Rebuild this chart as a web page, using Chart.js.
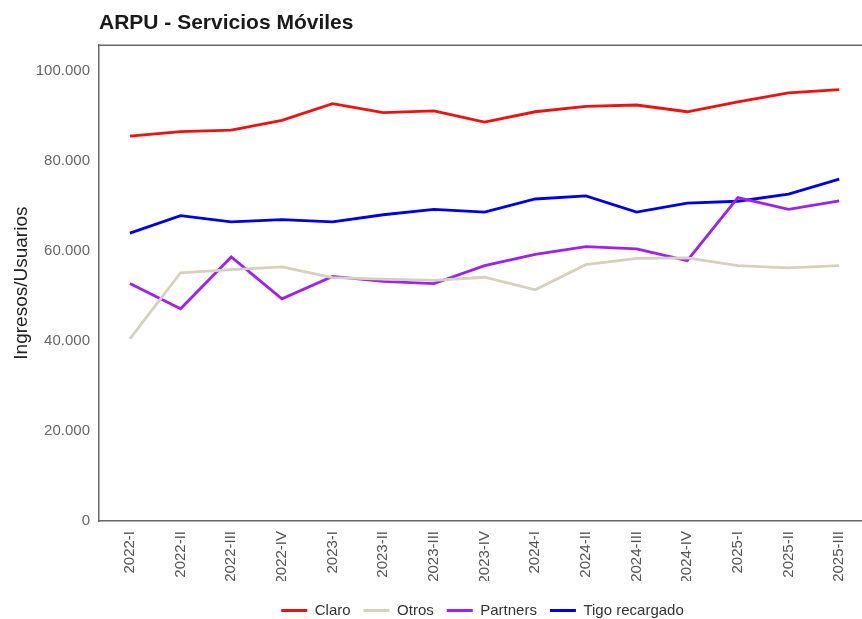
<!DOCTYPE html>
<html>
<head>
<meta charset="utf-8">
<script src="https://cdn.jsdelivr.net/npm/chart.js@4/dist/chart.umd.min.js"></script>
<style>
  html, body { margin: 0; padding: 0; background: #fff; }
  #wrap { width: 862px; height: 619px; position: relative; }
</style>
</head>
<body>
<div id="wrap"><canvas id="arpuChart"></canvas></div>
<script>
const periods = ['2022-I', '2022-II', '2022-III', '2022-IV', '2023-I', '2023-II', '2023-III', '2023-IV',
    '2024-I', '2024-II', '2024-III', '2024-IV', '2025-I', '2025-II', '2025-III'];

const claro = [85600, 86600, 86900, 89100, 92800, 90800, 91200, 88700, 91000, 92200, 92500, 91000, 93200, 95200, 95900];
const otros = [40500, 55200, 55900, 56500, 54100, 53800, 53500, 54200, 51400, 57000, 58400, 58500, 56800, 56300, 56800];
const partners = [52800, 47200, 58700, 49400, 54400, 53300, 52800, 56800, 59300, 61000, 60500, 57900, 71900, 69300, 71200];
const tigo = [64000, 67900, 66500, 67000, 66500, 68100, 69300, 68700, 71600, 72300, 68700, 70700, 71100, 72700, 76000];

const yTicks = [0, 20000, 40000, 60000, 80000, 100000];

const FONT = "'Liberation Sans', Arial, sans-serif";

function toPoints(values) {
    return values.map((v, i) => ({ x: i, y: v }));
}

function fmtThousands(v) {
    return String(Math.round(v)).replace(/\B(?=(\d{3})+(?!\d))/g, '.');
}

// frame line along the top of the plot area, and nudge the legend a bit
const frameAndLegend = {
    id: 'frameAndLegend',
    afterLayout(chart) {
        const lg = chart.legend;
        if (lg) {
            lg.top += 9;
            lg.bottom += 9;
            lg.left += 2;
            lg.right += 2;
        }
    },
    afterDraw(chart) {
        const a = chart.chartArea;
        const c = chart.ctx;
        c.save();
        c.strokeStyle = '#666';
        c.lineWidth = 1.5;
        c.beginPath();
        c.moveTo(a.left, a.top);
        c.lineTo(862, a.top);
        c.stroke();
        c.restore();
    }
};

function line(label, values, color) {
    return {
        label: label,
        data: toPoints(values),
        borderColor: color,
        backgroundColor: color,
        borderWidth: 2.8,
        pointRadius: 0,
        tension: 0
    };
}

const ctx = document.getElementById('arpuChart').getContext('2d');
new Chart(ctx, {
    type: 'line',
    data: {
        datasets: [
            line('Claro', claro, '#ee1111'),
            line('Otros', otros, '#d6d0be'),
            line('Partners', partners, '#a020f0'),
            line('Tigo recargado', tigo, '#0000e6')
        ]
    },
    options: {
        responsive: true,
        maintainAspectRatio: false,
        animation: false,
        layout: { padding: { top: 0, right: 0, bottom: 0, left: 0 } },
        scales: {
            x: {
                type: 'linear',
                min: -0.61,
                max: 14.45,
                grid: { display: false, drawTicks: false },
                border: { display: true, color: '#666', width: 1.5 },
                afterBuildTicks(scale) {
                    scale.ticks = periods.map((p, i) => ({ value: i }));
                },
                afterFit(scale) {
                    scale.height = 60;
                    scale.paddingLeft = 0;
                    scale.paddingRight = 0;
                },
                ticks: {
                    autoSkip: false,
                    maxRotation: 90,
                    minRotation: 90,
                    padding: 10,
                    color: '#555',
                    font: { family: FONT, size: 15 },
                    callback: (v) => periods[v]
                }
            },
            y: {
                min: 0,
                max: 105800,
                grid: { display: false, drawTicks: false },
                border: { display: true, color: '#666', width: 1.5 },
                afterBuildTicks(scale) {
                    scale.ticks = yTicks.map(v => ({ value: v }));
                },
                afterFit(scale) { scale.width = 99; },
                title: {
                    display: true,
                    text: 'Ingresos/Usuarios',
                    color: '#222',
                    padding: { top: 10, bottom: 0 },
                    font: { family: FONT, size: 19 }
                },
                ticks: {
                    padding: 9,
                    color: '#666',
                    font: { family: FONT, size: 15 },
                    callback: (v) => fmtThousands(v)
                }
            }
        },
        plugins: {
            title: {
                display: true,
                text: 'ARPU - Servicios Móviles',
                align: 'start',
                fullSize: false,
                color: '#1a1a1a',
                padding: { top: 11, bottom: 9 },
                font: { family: FONT, size: 21, weight: 'bold' }
            },
            legend: {
                position: 'bottom',
                fullSize: false,
                labels: {
                    boxWidth: 26,
                    boxHeight: 3,
                    padding: 13,
                    color: '#333',
                    font: { family: FONT, size: 15 },
                    generateLabels(chart) {
                        const items = Chart.defaults.plugins.legend.labels.generateLabels(chart);
                        items.forEach(it => { it.lineWidth = 0; });
                        return items;
                    }
                }
            },
            tooltip: { enabled: false }
        }
    },
    plugins: [frameAndLegend]
});
</script>
</body>
</html>
